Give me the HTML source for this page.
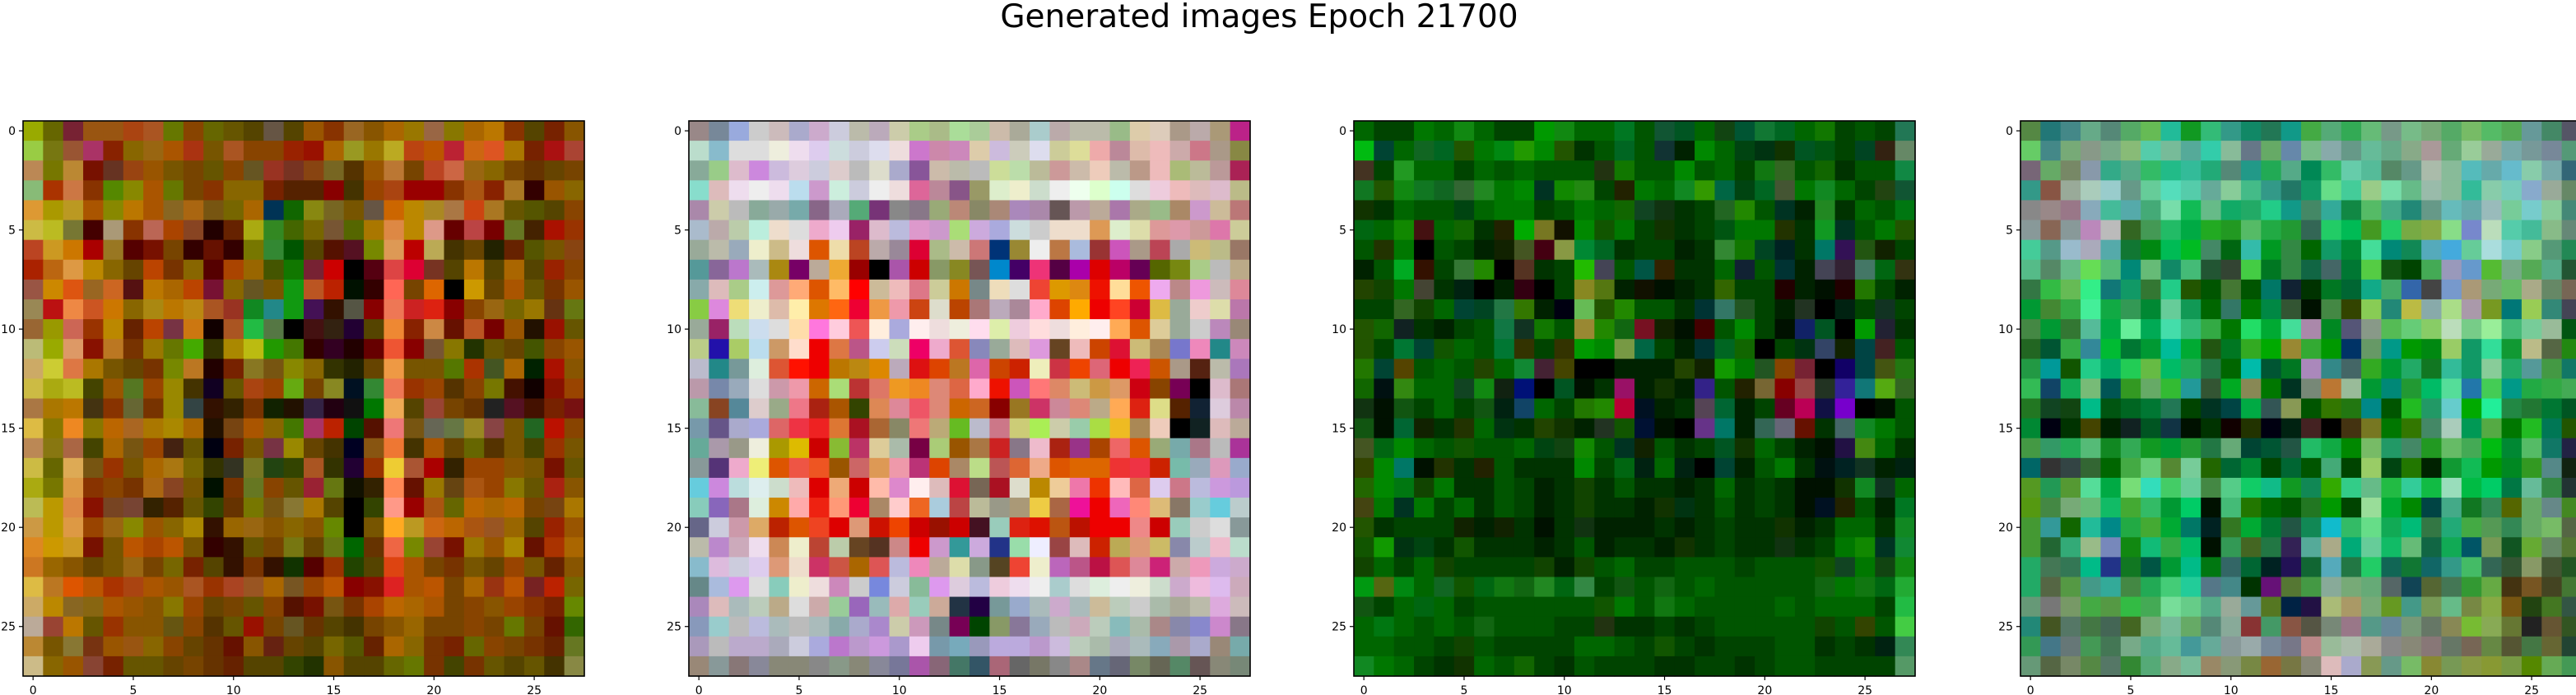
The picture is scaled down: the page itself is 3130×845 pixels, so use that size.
<!DOCTYPE html>
<html>
<head>
<meta charset="utf-8">
<style>
  html,body{margin:0;padding:0;background:#fff;}
  svg{display:block;}
  text{font-family:"DejaVu Sans","Liberation Sans",sans-serif;fill:#000;}
</style>
</head>
<body>
<svg id="fig" width="3130" height="845" viewBox="0 0 3130 845" xmlns="http://www.w3.org/2000/svg">
  <rect x="0" y="0" width="3130" height="845" fill="#fff"/>
  <text x="1530" y="33" font-size="39" text-anchor="middle">Generated images Epoch 21700</text>
</svg>
<script>
const tickValues = [0, 5, 10, 15, 20, 25];
const tickLabels = ["0", "5", "10", "15", "20", "25"];
const imageNames = ["generated-image-1", "generated-image-2", "generated-image-3", "generated-image-4"];

const image1 = [
"9a0 660 723 951 951 a41 a52 670 840 660 650 540 654 540 950 830 962 850 a60 970 964 870 a60 b70 830 540 720 850",
"9c4 771 953 a36 820 860 961 a50 a31 750 a52 840 840 920 910 a60 992 970 ba2 b41 b50 b23 c61 d52 a70 720 a11 a43",
"b85 770 b83 710 632 941 950 750 740 650 840 652 932 732 841 762 530 950 b73 740 b42 c64 961 860 740 630 640 740",
"8b7 a30 c74 830 580 880 a50 670 740 830 860 860 720 520 520 800 430 940 a41 900 900 830 a51 820 a72 300 950 860",
"d93 a90 b92 a50 880 b70 a50 862 a61 751 760 a60 035 160 881 762 750 654 c60 b80 a82 a74 c41 a72 650 550 540 840",
"cb4 bb2 773 400 a97 830 b65 a40 842 200 620 aa1 382 460 760 753 560 a70 d84 b80 d98 600 b44 700 672 420 a10 930",
"b42 c92 c70 a00 972 500 710 740 300 610 300 770 383 050 540 510 512 780 d95 b00 ba5 430 640 220 620 550 750 841",
"a20 b61 d94 b80 860 640 b40 730 860 500 a40 960 450 170 723 c00 000 501 d44 d03 732 540 b70 540 a60 540 920 840",
"954 c80 d51 962 c62 511 b70 a60 b40 713 860 652 750 191 b52 b20 010 300 f65 740 d60 000 c90 640 a50 650 730 950",
"985 b11 e84 c52 c70 860 a81 b70 b81 a52 932 182 288 191 415 310 554 800 e75 c22 d21 800 840 961 760 970 631 671",
"963 990 c65 930 b80 620 b40 734 c71 100 a52 2b4 574 000 411 321 203 540 e83 820 c84 610 b52 700 950 210 910 650",
"bb7 9a0 d96 810 b72 730 970 670 4a0 330 a80 bb1 290 470 300 302 200 600 e53 800 753 870 230 650 640 450 840 950",
"ca6 cc3 d74 a70 750 640 730 780 b72 200 720 872 751 880 860 330 220 640 e94 750 750 570 a30 452 a60 020 a10 850",
"cb4 aa1 bb2 440 950 572 940 980 430 102 650 a41 940 6a1 740 882 012 383 e75 930 940 530 840 770 410 100 810 940",
"a74 a70 b70 431 830 663 730 980 344 310 320 730 120 210 324 201 111 070 ea5 540 943 740 630 222 512 410 720 711",
"db4 870 e82 870 b60 a62 a70 a80 a60 210 741 a50 860 470 a36 b20 040 510 e77 751 665 674 982 844 750 262 b10 840",
"b85 871 a64 440 a60 751 940 421 650 001 720 750 734 980 640 430 002 851 e73 430 a50 640 660 530 750 440 930 750",
"cb4 660 da5 751 930 750 a60 a71 760 330 332 772 241 340 a52 330 203 930 ec3 a53 a00 320 940 940 850 750 710 650",
"aa1 770 d94 830 840 730 a61 842 750 010 730 672 840 650 923 671 110 320 f85 610 970 641 a51 940 870 650 a21 850",
"bb5 b90 d84 810 742 743 320 520 650 340 630 770 751 873 a70 540 000 340 f98 900 a51 660 b60 a60 b60 740 741 a70",
"c94 b90 d94 940 961 880 950 860 a80 310 960 961 850 860 850 680 000 750 fa2 b92 c61 b60 a51 952 960 540 920 950",
"d82 c90 c92 710 750 b50 a40 b50 750 300 310 650 740 771 640 671 060 630 e64 780 943 710 970 950 a80 610 a30 a60",
"c72 960 850 640 750 961 740 760 720 540 310 730 310 130 500 930 240 540 d41 a50 740 730 750 640 940 750 620 850",
"db4 b72 d50 b50 a30 a41 a50 950 a52 930 a42 952 a60 752 940 b50 800 810 d22 a50 b50 740 a60 931 b50 722 b20 760",
"ca6 b80 862 861 a50 950 850 870 940 640 740 650 840 510 710 751 730 a40 b60 a60 a50 740 840 850 940 830 720 680",
"ba9 943 b70 650 930 850 850 651 840 530 650 910 740 652 630 540 430 740 850 960 740 740 840 740 670 740 610 360",
"b83 750 873 731 950 951 860 840 640 630 610 850 621 640 540 760 550 620 a60 860 730 720 660 840 740 730 620 672",
"cb8 860 950 843 720 650 650 640 740 630 620 540 540 340 230 850 540 540 660 670 730 440 730 650 540 650 430 884"
];

const image2 = [
"988 789 9ad ccc cbb aac cac ccd bba bab cca ac8 ab8 ad9 ac9 cba aa9 acc baa bba bba 9b8 dca dcb a98 baa a97 b28",
"bdc 8bc ddd ddd eed ede dce cdd ccd dde edd c7c c8a c8b dca cbd ccb dde cc9 dd9 eaa b89 dba ebb caa c78 a98 884",
"8a9 9c8 dbc c8d cbd dcd ccd dcc bbb ddc aac 859 cba bba bbb cd9 bda bb9 c99 cba ecb bba b98 ebb ab7 bb9 b99 a25",
"8dc dbb ede eee ede bde c9c ced ccd eee edd d69 b89 858 996 dec eec cdc eee efe dfc cfe ddd ecd ebb dbb dbc bb8",
"a8a cca bbb 8a9 9aa 7aa 868 aab 5a7 737 888 878 9a7 b87 886 a87 a8b a8a 655 b9a ba9 a7a aa8 9b8 a86 c9c cb9 b77",
"abc baa bca bed edc ddd eac ece 926 dbc bbd d9c c9c ad7 cad aad cdd ccc edc edc d95 dec dda d99 d9a c99 d7a cc9",
"9a9 bba 9ab eec cb8 edd d50 eda b42 baa 989 d03 ab8 cba c77 037 983 eee b74 abd 933 c5b a98 b45 aaa cb7 bb8 976",
"599 869 b7c abb a81 706 ba9 ea3 900 000 a5a c00 896 882 755 08c 406 e37 504 a0a d00 b06 605 560 781 ac8 bbb ba8",
"8aa dbb ac8 cee d99 fa7 d50 fb6 f00 cb9 ebb d78 cc9 c70 788 edb ddd e43 d90 d81 e10 fd9 e50 eae b88 e9d cbb d89",
"8c4 d8d ed7 eec dba fea d70 f61 e03 e94 e9a c41 ddc b40 a77 bab a89 fac d40 fa0 e00 f42 c03 db4 9a9 ecc dda b7a",
"9a9 926 bdb cde ddd fda f7d fcd e55 fed aad fee edd eed fde dea ecd fdd edd fed fee fa5 d50 dc9 9a9 ccc b8b 987",
"bc8 21a ac6 bde c96 fdc e00 d74 b58 cce cdb e06 eac d53 88b 9a9 dbb d9d 642 ebb c40 d13 cb7 a85 77c e8b 288 c8b",
"bbc 288 799 ded d53 f10 e00 b70 b81 d80 bab d11 d40 b72 d6a c40 c20 eeb c34 e40 d67 e00 e25 c50 a98 521 bba a7b",
"b9a 78a 9ab ddd c9a e9a c60 ad7 b33 d76 e92 e82 d87 d64 fac e10 c5b f77 d86 cb7 c94 d96 c01 840 705 000 dbc a77",
"8b9 842 589 dcc 9a8 e78 a21 a50 340 d85 d89 e56 d87 c60 c62 800 972 c36 c89 d87 ba8 fa5 d21 dd8 520 123 dcd b8a",
"79a 658 aac aad d66 e34 e22 d73 a12 a63 886 e77 ba7 6b2 bbc c78 cc7 ae5 cca 9ca ad4 eb2 a85 ecb 000 122 dbb ba9",
"6a9 a9a 998 eed a90 db0 c00 8b3 b36 dc9 aba 704 ac7 950 a74 c22 878 ebc a21 938 a40 e66 d50 9a7 7aa a78 bbb a39",
"899 537 eac ee7 d50 e54 e52 950 c66 d95 e9a b37 d40 a86 bd8 b55 d63 ea8 d50 d60 d60 e33 e34 c20 7ba 9ab d9b 9ac",
"6cd c8d bdd dee cdc ebb d00 ea7 c00 fba d8c fee dbb d13 765 a12 ddc b80 ec9 e7a e30 fbb d64 dce c78 bbd c9d b9d",
"8cb 86b a78 ded c80 faa e21 f97 e03 a86 fcc e62 acd b44 bb9 998 a97 ec4 a64 e19 e00 e6b f87 db7 876 9cc 6cd bcc",
"668 ccd c9a da6 b20 d50 e42 d00 d97 c10 e40 c00 910 c00 412 9cb d21 d10 b51 b10 e00 e00 e88 c00 9cb ccc ddd 899",
"bba b8c cab ede c85 eec b43 bca 642 532 c88 e00 c9c 399 cad 238 9da eef 944 dbb c20 ba5 d97 cb6 88a bcc ebc bdc",
"8bc dbd ccd dce d97 edc c36 c54 a60 d55 bbd e8b ba9 dda 898 542 e43 eec b6b b58 b14 d55 d89 c27 caa e9b cad cac",
"688 abd d9e ddd 8cb eec edd c8b ccc 78d ccd 8b9 d9e dcd bbd ecd ede eee acc ddd ded eee eed cdc cac ebd dbe cab",
"a8b dbb abb bcb ba8 ddd caa 9c9 96b 9bb daa 9cb ca9 234 204 799 9ac abb cac abb cb9 bcb ccc aba aa9 bba dad cbb",
"89b 9cc bbb bbd abb bbb abb 8aa aac a8c cca c9b 788 705 040 896 879 9ab bbb cab bcb 8bb aba a88 88a 88c c8c 878",
"a9b bbb bac bac aab ccd aad b7c b9c c9d a9c ece 79a 7ab 99b bad bad b9c cbd bcb aba aab abb 8ab a9a aac 987 7aa",
"987 899 877 889 887 887 888 898 887 889 779 a5a 867 476 356 a67 666 776 888 a88 678 667 786 665 586 655 887 787"
];

const image3 = [
"060 040 040 070 060 181 060 040 040 090 181 060 060 072 050 153 052 060 141 053 173 062 060 170 040 050 040 275",
"0b1 043 060 162 062 250 070 081 290 080 250 030 050 062 050 133 020 080 060 041 031 130 052 051 040 042 321 686",
"432 040 292 060 060 040 060 050 060 050 050 050 231 170 050 050 080 050 060 040 171 362 050 160 030 050 050 184",
"172 250 181 172 162 363 282 070 080 032 180 281 040 220 070 060 182 390 064 041 062 453 070 182 060 040 241 153",
"130 030 060 050 050 041 060 070 070 040 050 070 060 160 142 131 030 040 262 280 050 032 020 282 030 060 050 071",
"061 060 180 411 060 160 030 220 0a0 772 110 080 150 070 040 130 030 040 051 070 070 230 030 192 032 050 070 250",
"050 230 070 000 050 040 020 120 452 401 894 083 062 030 040 040 020 030 383 170 042 022 030 076 315 251 120 040",
"020 050 0a2 310 040 373 280 000 532 030 040 2b0 445 050 054 320 030 030 060 123 050 033 020 445 323 476 061 331",
"240 140 070 443 030 021 000 020 301 000 040 882 571 020 110 010 020 030 360 040 040 200 020 010 200 270 040 020",
"040 040 362 140 060 043 042 274 370 020 001 6b5 250 280 050 050 030 033 376 252 040 020 232 000 021 040 132 040",
"250 160 122 030 020 040 050 174 132 170 050 983 280 161 712 120 010 400 050 080 040 010 126 052 000 090 223 030",
"250 040 073 043 150 060 050 073 330 040 330 090 080 794 064 040 020 033 062 160 000 040 031 346 120 044 422 050",
"270 043 540 050 060 050 240 060 183 423 440 000 000 020 020 020 240 120 190 070 252 840 723 000 106 044 451 271",
"160 011 381 060 060 142 181 121 017 000 052 010 030 916 020 130 020 328 050 220 763 800 944 232 329 177 5a1 362",
"131 010 151 040 060 040 151 021 146 060 040 270 280 b03 012 020 030 545 063 020 040 602 b05 114 70c 000 010 050",
"151 010 063 120 030 230 060 031 030 240 130 020 232 150 013 010 000 638 076 020 365 667 610 030 466 182 070 050",
"452 061 080 060 050 150 050 050 060 041 141 180 050 032 120 050 030 040 052 130 060 040 020 010 214 481 060 030",
"340 080 076 010 230 030 220 050 030 030 030 080 040 061 021 060 021 000 043 020 050 070 030 011 022 132 020 021",
"260 080 071 140 070 030 030 050 040 020 030 140 030 050 030 030 020 030 060 030 040 030 010 010 130 182 132 060",
"441 070 032 070 040 060 030 050 040 020 030 140 030 030 020 130 031 030 050 030 040 030 010 012 220 050 020 072",
"250 030 040 040 040 120 020 120 030 010 030 131 020 020 020 030 020 030 040 030 030 130 020 030 060 060 030 182",
"150 190 031 041 030 150 030 030 030 020 030 050 020 030 030 020 130 030 040 030 030 131 030 040 070 180 032 183",
"140 060 040 060 140 040 040 040 040 140 020 140 050 060 040 040 050 050 050 040 050 050 050 150 142 070 141 181",
"091 561 081 060 162 150 061 171 161 282 061 384 040 151 050 161 050 060 050 050 050 050 050 161 070 171 061 2a3",
"151 040 060 061 060 040 050 050 050 050 050 050 150 070 050 171 060 050 050 050 050 060 050 060 060 060 040 2b4",
"060 071 060 050 060 050 161 050 050 050 040 040 231 030 030 040 030 040 050 050 050 050 050 140 050 340 050 4c4",
"060 060 050 050 040 140 050 040 040 040 040 060 060 050 040 150 040 030 040 040 040 050 050 030 040 030 021 385",
"182 070 060 040 030 130 060 050 160 040 030 050 040 040 040 030 030 040 040 030 040 050 050 040 040 040 040 596"
];

const image4 = [
"584 277 488 6a8 587 5a6 6b5 2b9 192 3b7 398 186 275 198 4a4 5a7 3a5 6b7 798 7b8 7a7 5a6 7b6 5b6 5a5 699 486 556",
"6c6 488 7a7 898 7a8 8b7 5ca 7b9 5a9 3ca 8b9 678 6a6 68a 7b8 8aa 698 6b9 6a8 8a8 a99 6a7 9c9 9a9 7aa 799 789 597",
"767 6a6 786 89a 3a8 5a8 3b6 2b8 3b9 2a7 587 298 2a5 5a8 085 3b6 6ca 5b9 586 698 aba 8b9 5bb 6aa 6bc 8ca 7aa 367",
"398 854 9a9 acb 9cc 698 6c9 5db 5ca 6a9 8c9 4b8 398 276 196 6d8 4c9 9c8 7da 6b8 9ba 8b9 3b9 8ca 7cb 8ac 9a9 686",
"888 988 978 8ab 4b9 5aa 4a7 7da 1b5 6b8 1a6 2a6 2c8 198 486 3a9 184 5b6 4a8 287 698 6bb 6aa 9bb 7c9 7cc 8c9 487",
"899 865 899 b8b bbb 362 495 2b6 0a4 2a2 292 5b6 2a4 293 365 2c6 0b5 492 2c6 7a4 8a4 8d8 78c bdb 5ca 4b9 8b8 687",
"4c9 598 9bc aab 5aa 173 081 0b5 0b2 486 061 3ba 092 384 060 196 083 4d9 087 185 5ab 4ad 6c9 add 7cc 8c8 597 285",
"5b8 586 6b8 6d5 5b7 087 6b7 186 4b7 253 343 4c4 072 384 164 466 073 5c4 151 040 4a5 99b 69c 5b3 7a8 5a5 5a8 253",
"374 3b4 6b5 3e8 177 196 373 2c8 250 050 473 050 076 123 030 072 063 1a8 4a6 36a 444 79c a97 7a7 6b6 aa8 686 765",
"093 483 3a4 4e9 1a4 395 083 6c9 195 060 376 070 084 353 010 484 340 8c5 287 bb4 8aa ad8 a9a 792 077 9c5 387 445",
"484 093 373 5b9 0a4 6e9 0a5 4da 3b7 3a4 070 2d6 0a3 4d9 a8a 082 557 898 5b5 6c7 8c6 bdb 7c8 9e9 4b7 7c9 9b9 051",
"262 053 3a4 389 0b3 073 093 0b9 0a3 251 072 3a2 0a0 983 3a3 090 036 696 098 090 081 9c6 196 3d9 193 bb8 564 281",
"294 099 150 2c8 0a6 2c5 6b4 0b6 2a5 274 060 0ba 053 072 a8b 388 466 3a2 093 2a6 172 3b9 196 8c9 2a6 599 494 176",
"3b5 146 1a5 7b7 055 392 6a6 3b3 299 353 0a2 885 070 032 787 b73 9b9 093 087 293 0b6 5d9 27a 4c5 098 2a4 3a4 4a5",
"272 142 141 0b8 051 062 073 275 040 032 044 0a4 355 895 050 370 271 088 050 2b2 296 6cc 0a0 2e9 284 273 073 052",
"083 001 030 440 020 122 052 134 010 030 100 230 001 021 422 000 431 772 070 370 486 acb 095 5a4 070 2b2 075 250",
"494 396 2a5 5b7 182 3a5 192 093 293 274 6a7 043 053 254 2b6 1a4 080 7b6 296 486 292 6b6 4a5 0b1 083 5b6 176 224",
"066 333 344 363 060 4a4 6c7 583 7c9 260 063 083 040 063 050 4a7 040 9c6 041 270 020 193 1b5 090 082 392 588 121",
"592 295 593 5d9 0a4 7d7 3db 4c6 6c9 484 5c8 1c6 1b8 192 185 3a0 3c8 6b8 2b4 3c9 1b4 9db 0b4 0c6 074 6b9 384 233",
"591 484 7a7 6b7 1b6 4a3 3b6 093 0c6 010 4b7 270 060 050 272 090 040 9d9 0a3 080 044 4a8 172 385 560 6a6 688 482",
"493 399 160 2b9 088 2a4 4a3 0a3 076 022 372 0a3 073 254 185 1bc 3b6 6d8 1a5 0b7 374 2a7 4a4 595 385 6a6 7b6 564",
"493 263 3a7 9b8 78b 181 1b7 3a4 0b6 010 395 462 274 325 5a9 aa8 0a7 6c9 1b6 6b7 164 1a5 056 795 152 6a3 686 573",
"2a6 475 375 0b8 238 172 054 093 0b8 071 366 063 022 215 163 5ab 274 2c6 165 173 166 398 4b6 365 353 896 453 252",
"2a6 564 594 498 3a9 484 2a5 4c7 2c9 578 488 030 617 573 494 8a9 7a7 6a7 566 145 563 475 393 6a4 431 752 442 473",
"697 777 796 4a4 594 3b4 4a5 7d9 6c8 5a8 9a9 699 572 024 214 ab7 a96 7a7 692 498 795 6b8 784 8a4 751 241 472 354",
"287 452 576 474 465 462 7a7 7b9 6a6 587 8a9 833 496 854 554 787 978 598 689 797 676 885 7b3 8a5 673 222 653 352",
"395 478 677 495 475 7a8 5a8 6b9 499 6a9 899 9aa 789 778 b88 9b9 aba aa9 888 887 877 676 765 684 553 474 663 243",
"697 564 786 584 576 383 5a7 8a8 7b9 986 897 784 963 774 887 dbb aac 895 698 7b6 883 795 894 893 794 580 6a5 495"
];

const images = [image1, image2, image3, image4];

const axLeft = [28, 837, 1645, 2455];
const axTop = 147;
const axW = 682;
const axH = 675;
const N = 28;
const NS = "http://www.w3.org/2000/svg";
const svg = document.getElementById("fig");

function parseRow(s) {
  const parts = s.trim().split(/[\s,]+/).filter(function (p) { return /^[0-9a-fA-F]{3}$/.test(p); });
  const out = [];
  for (let i = 0; i < N; i++) {
    const c = parts[i] || parts[parts.length - 1] || "000";
    out.push("#" + c);
  }
  return out;
}

function xScale(k, col) { return axLeft[k] + col * axW / N; }
function yScale(row) { return axTop + row * axH / N; }

images.forEach(function (img, k) {
  const g = document.createElementNS(NS, "g");
  
  
  svg.appendChild(g);

  img.forEach(function (rowStr, r) {
    const cols = parseRow(rowStr);
    cols.forEach(function (color, c) {
      const rect = document.createElementNS(NS, "rect");
      const x0 = xScale(k, c), x1 = xScale(k, c + 1);
      const y0 = yScale(r), y1 = yScale(r + 1);
      rect.setAttribute("x", x0.toFixed(2));
      rect.setAttribute("y", y0.toFixed(2));
      rect.setAttribute("width", (x1 - x0 + 0.6).toFixed(2));
      rect.setAttribute("height", (y1 - y0 + 0.6).toFixed(2));
      rect.setAttribute("fill", color);
      
      
      g.appendChild(rect);
    });
  });

  const frame = document.createElementNS(NS, "rect");
  frame.setAttribute("x", axLeft[k]);
  frame.setAttribute("y", axTop);
  frame.setAttribute("width", axW);
  frame.setAttribute("height", axH);
  frame.setAttribute("fill", "none");
  frame.setAttribute("stroke", "#000");
  frame.setAttribute("stroke-width", "1.6");
  
  
  g.appendChild(frame);

  tickValues.forEach(function (v, i) {
    const cx = xScale(k, v + 0.5);
    const cy = yScale(v + 0.5);
    const xt = document.createElementNS(NS, "line");
    xt.setAttribute("x1", cx); xt.setAttribute("x2", cx);
    xt.setAttribute("y1", axTop + axH); xt.setAttribute("y2", axTop + axH + 5);
    xt.setAttribute("stroke", "#000"); xt.setAttribute("stroke-width", "1.2");
    
    
    g.appendChild(xt);
    const xl = document.createElementNS(NS, "text");
    xl.setAttribute("x", cx);
    xl.setAttribute("y", axTop + axH + 22);
    xl.setAttribute("font-size", "14");
    xl.setAttribute("text-anchor", "middle");
    xl.textContent = tickLabels[i];
    
    
    g.appendChild(xl);

    const yt = document.createElementNS(NS, "line");
    yt.setAttribute("x1", axLeft[k] - 5); yt.setAttribute("x2", axLeft[k]);
    yt.setAttribute("y1", cy); yt.setAttribute("y2", cy);
    yt.setAttribute("stroke", "#000"); yt.setAttribute("stroke-width", "1.2");
    
    
    g.appendChild(yt);
    const yl = document.createElementNS(NS, "text");
    yl.setAttribute("x", axLeft[k] - 9);
    yl.setAttribute("y", cy + 5);
    yl.setAttribute("font-size", "14");
    yl.setAttribute("text-anchor", "end");
    yl.textContent = tickLabels[i];
    
    
    g.appendChild(yl);
  });
});
</script>
</body>
</html>
